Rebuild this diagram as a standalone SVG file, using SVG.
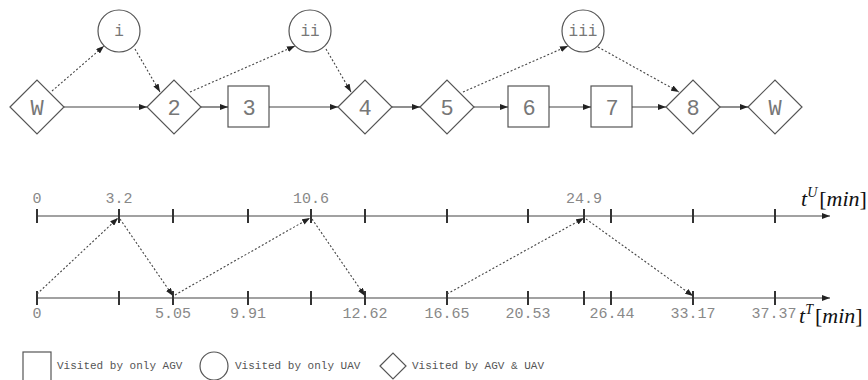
<svg xmlns="http://www.w3.org/2000/svg" width="868" height="380" viewBox="0 0 868 380">
  <defs>
    <marker id="arr" viewBox="0 0 8 6" refX="8" refY="3" markerWidth="8" markerHeight="6" markerUnits="userSpaceOnUse" orient="auto">
      <path d="M0,0 L8,3 L0,6 z" fill="#222"/>
    </marker>
    <style>
      .node { fill: #fff; stroke: #555; stroke-width: 1.2; }
      .lbl { font-family: "Liberation Mono", "Courier New", monospace; fill: #777; text-anchor: middle; }
      .big { font-size: 22px; }
      .uav { font-size: 16px; }
      .solid { stroke: #444; stroke-width: 1.2; fill: none; }
      .dot { stroke: #444; stroke-width: 1.1; stroke-dasharray: 2 2; fill: none; }
      .axis { stroke: #444; stroke-width: 1.2; fill: none; }
      .tick { stroke: #333; stroke-width: 2; }
      .tl { font-family: "Liberation Mono", "Courier New", monospace; font-size: 15px; fill: #888; text-anchor: middle; }
      .math { font-family: "Liberation Serif", "Times New Roman", serif; font-size: 22px; fill: #111; }
      .leg { font-family: "Liberation Mono", "Courier New", monospace; font-size: 11px; fill: #555; }
    </style>
  </defs>

  <!-- route nodes -->
  <g id="n-W-start"><polygon class="node" points="10,107 37,80 64,107 37,134"/><text class="lbl big" x="37" y="115">W</text></g>
  <g id="n-i"><circle class="node" cx="119" cy="31" r="21"/><text class="lbl uav" x="119" y="36">i</text></g>
  <g id="n-2"><polygon class="node" points="147,107 174,80 201,107 174,134"/><text class="lbl big" x="174" y="115">2</text></g>
  <g id="n-3"><rect class="node" x="228" y="86" width="41" height="41"/><text class="lbl big" x="249" y="115">3</text></g>
  <g id="n-ii"><circle class="node" cx="310" cy="31" r="21"/><text class="lbl uav" x="310" y="36">ii</text></g>
  <g id="n-4"><polygon class="node" points="338,107 365,80 392,107 365,134"/><text class="lbl big" x="365" y="115">4</text></g>
  <g id="n-5"><polygon class="node" points="420,107 447,80 474,107 447,134"/><text class="lbl big" x="447" y="115">5</text></g>
  <g id="n-6"><rect class="node" x="508" y="86" width="41" height="41"/><text class="lbl big" x="529" y="115">6</text></g>
  <g id="n-iii"><circle class="node" cx="583" cy="31" r="21"/><text class="lbl uav" x="583" y="36">iii</text></g>
  <g id="n-7"><rect class="node" x="591" y="86" width="41" height="41"/><text class="lbl big" x="612" y="115">7</text></g>
  <g id="n-8"><polygon class="node" points="666,107 693,80 720,107 693,134"/><text class="lbl big" x="693" y="115">8</text></g>
  <g id="n-W-end"><polygon class="node" points="748,107 775,80 802,107 775,134"/><text class="lbl big" x="775" y="115">W</text></g>

  <!-- route connectors -->
  <g id="connectors">
    <line class="solid" x1="64" y1="107" x2="147" y2="107" marker-end="url(#arr)"/>
    <line class="solid" x1="201" y1="107" x2="228" y2="107" marker-end="url(#arr)"/>
    <line class="solid" x1="269" y1="107" x2="338" y2="107" marker-end="url(#arr)"/>
    <line class="solid" x1="392" y1="107" x2="420" y2="107" marker-end="url(#arr)"/>
    <line class="solid" x1="474" y1="107" x2="508" y2="107" marker-end="url(#arr)"/>
    <line class="solid" x1="549" y1="107" x2="591" y2="107" marker-end="url(#arr)"/>
    <line class="solid" x1="632" y1="107" x2="666" y2="107" marker-end="url(#arr)"/>
    <line class="solid" x1="720" y1="107" x2="748" y2="107" marker-end="url(#arr)"/>

    <line class="dot" x1="52" y1="91" x2="104" y2="46" marker-end="url(#arr)"/>
    <line class="dot" x1="135" y1="49" x2="160" y2="92" marker-end="url(#arr)"/>
    <line class="dot" x1="190" y1="92" x2="295" y2="46" marker-end="url(#arr)"/>
    <line class="dot" x1="326" y1="49" x2="351" y2="92" marker-end="url(#arr)"/>
    <line class="dot" x1="463" y1="92" x2="568" y2="46" marker-end="url(#arr)"/>
    <line class="dot" x1="598" y1="47" x2="679" y2="92" marker-end="url(#arr)"/>
  </g>

  <!-- UAV time axis -->
  <g id="axis-uav">
    <line class="axis" x1="37" y1="216" x2="830" y2="216" marker-end="url(#arr)"/>
    <g class="tick">
      <line x1="37" y1="209" x2="37" y2="223"/>
      <line x1="119" y1="209" x2="119" y2="223"/>
      <line x1="173" y1="209" x2="173" y2="223"/>
      <line x1="248" y1="209" x2="248" y2="223"/>
      <line x1="311" y1="209" x2="311" y2="223"/>
      <line x1="365" y1="209" x2="365" y2="223"/>
      <line x1="447" y1="209" x2="447" y2="223"/>
      <line x1="528" y1="209" x2="528" y2="223"/>
      <line x1="584" y1="209" x2="584" y2="223"/>
      <line x1="611" y1="209" x2="611" y2="223"/>
      <line x1="693" y1="209" x2="693" y2="223"/>
      <line x1="775" y1="209" x2="775" y2="223"/>
    </g>
    <text class="tl" x="37" y="203">0</text>
    <text class="tl" x="119" y="203">3.2</text>
    <text class="tl" x="311" y="203">10.6</text>
    <text class="tl" x="584" y="203">24.9</text>
    <text class="math" x="801" y="206"><tspan font-style="italic">t</tspan><tspan font-style="italic" font-size="14" dy="-9">U</tspan><tspan dy="9" dx="2">[</tspan><tspan font-style="italic">min</tspan><tspan>]</tspan></text>
  </g>

  <!-- AGV time axis -->
  <g id="axis-agv">
    <line class="axis" x1="37" y1="298" x2="830" y2="298" marker-end="url(#arr)"/>
    <g class="tick">
      <line x1="37" y1="291" x2="37" y2="305"/>
      <line x1="119" y1="291" x2="119" y2="305"/>
      <line x1="173" y1="291" x2="173" y2="305"/>
      <line x1="248" y1="291" x2="248" y2="305"/>
      <line x1="311" y1="291" x2="311" y2="305"/>
      <line x1="365" y1="291" x2="365" y2="305"/>
      <line x1="447" y1="291" x2="447" y2="305"/>
      <line x1="528" y1="291" x2="528" y2="305"/>
      <line x1="584" y1="291" x2="584" y2="305"/>
      <line x1="611" y1="291" x2="611" y2="305"/>
      <line x1="693" y1="291" x2="693" y2="305"/>
      <line x1="775" y1="291" x2="775" y2="305"/>
    </g>
    <text class="tl" x="37" y="318">0</text>
    <text class="tl" x="173" y="318">5.05</text>
    <text class="tl" x="248" y="318">9.91</text>
    <text class="tl" x="365" y="318">12.62</text>
    <text class="tl" x="447" y="318">16.65</text>
    <text class="tl" x="528" y="318">20.53</text>
    <text class="tl" x="612" y="318">26.44</text>
    <text class="tl" x="693" y="318">33.17</text>
    <text class="tl" x="774" y="318">37.37</text>
    <text class="math" x="799" y="323"><tspan font-style="italic">t</tspan><tspan font-style="italic" font-size="14" dy="-9">T</tspan><tspan dy="9" dx="2">[</tspan><tspan font-style="italic">min</tspan><tspan>]</tspan></text>
  </g>

  <!-- timing links between the two axes -->
  <g id="timing-links">
    <line class="dot" x1="37" y1="294" x2="118" y2="218" marker-end="url(#arr)"/>
    <line class="dot" x1="120" y1="219" x2="173" y2="296" marker-end="url(#arr)"/>
    <line class="dot" x1="175" y1="295" x2="310" y2="218" marker-end="url(#arr)"/>
    <line class="dot" x1="312" y1="219" x2="365" y2="296" marker-end="url(#arr)"/>
    <line class="dot" x1="447" y1="294" x2="584" y2="218" marker-end="url(#arr)"/>
    <line class="dot" x1="586" y1="219" x2="693" y2="296" marker-end="url(#arr)"/>
  </g>

  <!-- legend -->
  <g id="legend">
    <rect class="node" x="23" y="352" width="28" height="30"/>
    <text class="leg" x="57" y="369">Visited by only AGV</text>
    <circle class="node" cx="214" cy="366" r="14"/>
    <text class="leg" x="235" y="369">Visited by only UAV</text>
    <polygon class="node" points="380,366 393,353 406,366 393,379"/>
    <text class="leg" x="412" y="369">Visited by AGV &amp; UAV</text>
  </g>
</svg>
